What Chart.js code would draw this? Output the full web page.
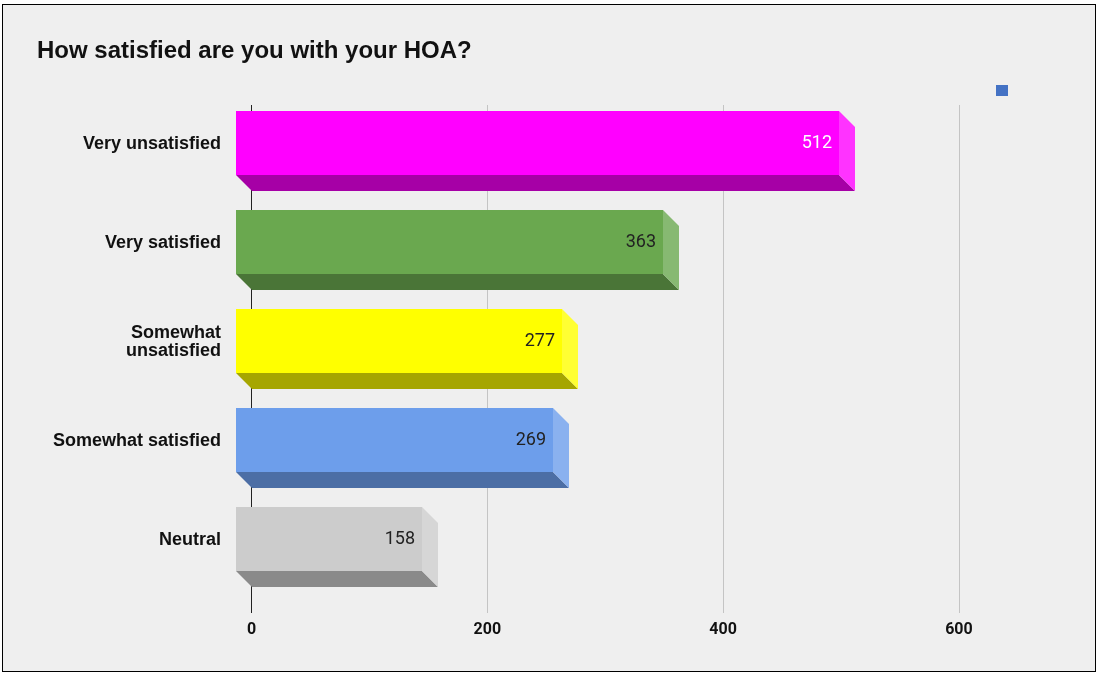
<!DOCTYPE html>
<html>
<head>
<meta charset="utf-8">
<title>How satisfied are you with your HOA?</title>
<script src="https://cdn.jsdelivr.net/npm/chart.js@4"></script>
<style>
    html, body { margin: 0; padding: 0; background: #fff; }
    #frame { position: absolute; left: 2px; top: 4px; width: 1092px; height: 666px; border: 1px solid #000; background: #efefef; }
    #chart { position: absolute; left: 0; top: 0; }
</style>
</head>
<body>
<div id="frame"></div>
<canvas id="chart" width="1099" height="673"></canvas>
<script>
const categories = ['Very unsatisfied', 'Very satisfied', ['Somewhat', 'unsatisfied'], 'Somewhat satisfied', 'Neutral'];
const values = [512, 363, 277, 269, 158];
const xTicks = [0, 200, 400, 600];

const frontColors = ['#ff00ff', '#6aa84f', '#ffff00', '#6d9eeb', '#cccccc'];
const bottomColors = ['#a600a6', '#4a7537', '#a6a600', '#4c6ea5', '#8a8a8a'];
const sideColors = ['#ff33ff', '#87b972', '#ffff33', '#8ab1ef', '#d6d6d6'];
const labelColors = ['#ffffff', '#222222', '#222222', '#222222', '#222222'];

const depth = 16;

// Draws the gridlines behind the bars
const gridPlugin = {
    id: 'grid3d',
    beforeDatasetsDraw(chart) {
        const ctx = chart.ctx;
        const area = chart.chartArea;
        ctx.save();
        xTicks.forEach(function(tick) {
            const x = chart.scales.x.getPixelForValue(tick);
            ctx.fillStyle = tick === 0 ? '#222222' : '#c4c4c4';
            ctx.fillRect(Math.floor(x + 0.2), area.top - 4.5, 1, area.bottom - area.top + 13);
        });
        ctx.restore();
    }
};

// Native bars are the back plane, the visible faces are shifted from them
const facesPlugin = {
    id: 'faces3d',
    afterDatasetsDraw(chart) {
        const ctx = chart.ctx;
        const bars = chart.getDatasetMeta(0).data;
        function poly(color, pts) {
            ctx.fillStyle = color;
            ctx.beginPath();
            pts.forEach(function(p, i) {
                if (i === 0) ctx.moveTo(p[0], p[1]);
                else ctx.lineTo(p[0], p[1]);
            });
            ctx.closePath();
            ctx.fill();
        }
        ctx.save();
        bars.forEach(function(bar, i) {
            const right = Math.round(bar.x);
            const left = Math.round(bar.base);
            const top = Math.round(bar.y - bar.height / 2);
            const bottom = Math.round(bar.y + bar.height / 2);
            // bottom face
            poly(bottomColors[i], [[left - depth, bottom - depth], [right - depth, bottom - depth], [right, bottom], [left, bottom]]);
            // right face
            poly(sideColors[i], [[right - depth, top - depth], [right, top], [right, bottom], [right - depth, bottom - depth]]);
            // front face
            poly(frontColors[i], [[left - depth, top - depth], [right - depth, top - depth], [right - depth, bottom - depth], [left - depth, bottom - depth]]);
            // value label
            ctx.fillStyle = labelColors[i];
            ctx.font = '18px Roboto';
            ctx.textAlign = 'right';
            ctx.textBaseline = 'middle';
            ctx.fillText(values[i], right - depth - 7, bar.y - depth);
        });
        // legend key, the series has no name
        ctx.fillStyle = '#4472c4';
        ctx.fillRect(996, 85, 12, 11);
        ctx.restore();
    }
};

new Chart(document.getElementById('chart'), {
    type: 'bar',
    data: {
        labels: categories,
        datasets: [{
            label: '',
            data: values,
            backgroundColor: 'rgba(0,0,0,0)',
            barThickness: 64
        }]
    },
    plugins: [gridPlugin, facesPlugin],
    options: {
        indexAxis: 'y',
        responsive: false,
        devicePixelRatio: 1,
        animation: false,
        layout: { padding: { left: 37, right: 22.2, top: 0, bottom: 0 } },
        scales: {
            x: {
                min: 0,
                max: 700,
                position: 'bottom',
                afterBuildTicks: function(axis) {
                    axis.ticks = xTicks.map(function(v) { return { value: v }; });
                },
                grid: { display: false },
                border: { display: false },
                ticks: {
                    autoSkip: false,
                    maxRotation: 0,
                    color: '#111111',
                    font: { family: 'Roboto', size: 16, weight: 'bold' },
                    padding: 7.5
                },
                afterFit: function(axis) { axis.height = 68.5; }
            },
            y: {
                offset: true,
                grid: { display: false },
                border: { display: false },
                afterFit: function(axis) { axis.width = 214.5; },
                ticks: {
                    autoSkip: false,
                    color: '#111111',
                    font: { family: 'Liberation Sans', size: 18, weight: 'bold', lineHeight: 1 },
                    padding: 22.5,
                    labelOffset: -15
                }
            }
        },
        plugins: {
            legend: { display: false },
            tooltip: { enabled: false },
            title: {
                display: true,
                text: 'How satisfied are you with your HOA?',
                align: 'start',
                color: '#111111',
                font: { family: 'Liberation Sans', size: 24, weight: 'bold' },
                padding: { top: 36.6, bottom: 44.1 }
            }
        }
    }
});
</script>
</body>
</html>
